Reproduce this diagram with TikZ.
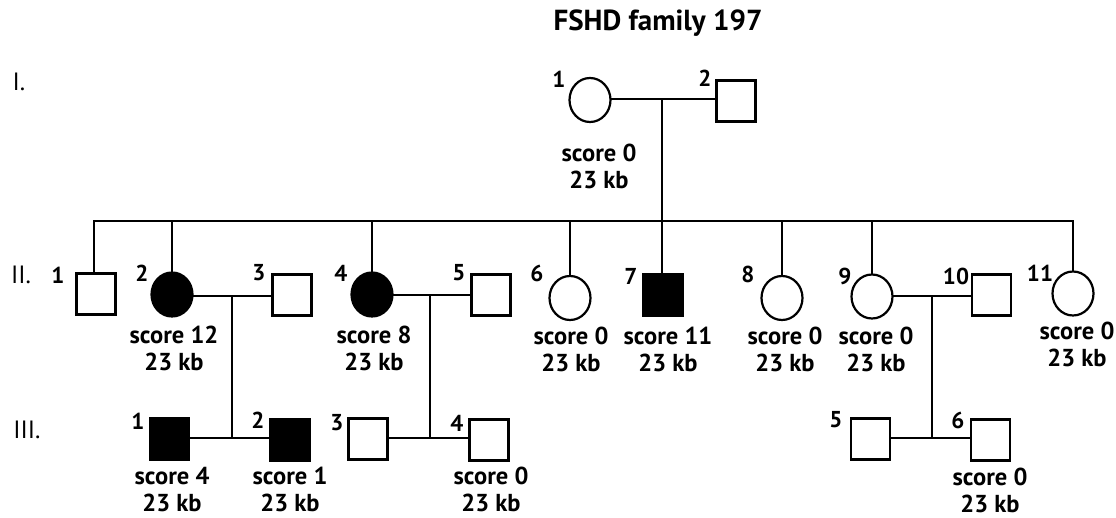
\documentclass[tikz,border=0pt]{standalone}
\usepackage{fontspec}
\setmainfont{PT Sans}
\usetikzlibrary{shapes.geometric}
\tikzset{
  base/.style={draw=black, line width=2.2pt, inner sep=0pt},
  fem/.style={base, ellipse, minimum width=41pt, minimum height=44pt},
  mal/.style={base, rectangle, minimum width=39pt, minimum height=41pt},
  aff/.style={fill=black},
  num/.style={inner sep=0pt, font=\fontsize{23}{24}\selectfont\bfseries},
  info/.style={inner sep=0pt, align=center, font=\fontsize{24.5}{27}\selectfont\bfseries},
  gen/.style={inner sep=0pt, font=\fontsize{25}{26}\selectfont},
  ln/.style={line width=2.2pt, line cap=rect},
}
\begin{document}
\begin{tikzpicture}[x=1pt,y=-1pt]
\useasboundingbox (0,0) rectangle (1116,518);
% title
\node[inner sep=0pt, font=\fontsize{29}{30}\selectfont\bfseries] (title) at (658,23) {FSHD family 197};
% generation labels
\node[gen] (gI) at (19,82) {I.};
\node[gen] (gII) at (21,275) {II.};
\node[gen] (gIII) at (27,430) {III.};
% generation I
\node[fem] (I1) at (590,100) {};
\node[mal] (I2) at (736,101) {};
\node[num] (nI1) at (559,79) {1};
\node[num] (nI2) at (705,78) {2};
\node[info] (iI1) at (599,166) {score 0\\23 kb};
% generation II
\node[mal] (II1) at (96,294) {};
\node[fem,aff] (II2) at (172,294.5) {};
\node[mal] (II3) at (292,295) {};
\node[fem,aff] (II4) at (372,294.5) {};
\node[mal] (II5) at (491,295) {};
\node[fem] (II6) at (570,298) {};
\node[mal,aff] (II7) at (663,295) {};
\node[fem] (II8) at (782,298) {};
\node[fem] (II9) at (872,296.5) {};
\node[mal] (II10) at (991.5,295) {};
\node[fem] (II11) at (1073,293.5) {};
\node[num] (nII1) at (58,275) {1};
\node[num] (nII2) at (142,273) {2};
\node[num] (nII3) at (259,273) {3};
\node[num] (nII4) at (341,273) {4};
\node[num] (nII5) at (459,273) {5};
\node[num] (nII6) at (537,273) {6};
\node[num] (nII7) at (631,276) {7};
\node[num] (nII8) at (748,274) {8};
\node[num] (nII9) at (845,276) {9};
\node[num] (nII10) at (956,276) {10};
\node[num] (nII11) at (1040,273) {11};
\node[info] (iII2) at (174,348) {score 12\\23 kb};
\node[info] (iII4) at (374,348) {score 8\\23 kb};
\node[info] (iII6) at (571,349) {score 0\\23 kb};
\node[info] (iII7) at (668,349) {score 11\\23 kb};
\node[info] (iII8) at (785,349) {score 0\\23 kb};
\node[info] (iII9) at (876,349) {score 0\\23 kb};
\node[info] (iII11) at (1077,344) {score 0\\23 kb};
% generation III
\node[mal,aff] (III1) at (169.5,439) {};
\node[mal,aff] (III2) at (290,440) {};
\node[mal] (III3) at (368,439) {};
\node[mal] (III4) at (489,440) {};
\node[mal] (III5) at (870.5,439) {};
\node[mal] (III6) at (990.5,440) {};
\node[num] (nIII1) at (138,421) {1};
\node[num] (nIII2) at (258,420) {2};
\node[num] (nIII3) at (337,423) {3};
\node[num] (nIII4) at (457,423) {4};
\node[num] (nIII5) at (836,420) {5};
\node[num] (nIII6) at (958,420) {6};
\node[info] (iIII1) at (172,489.5) {score 4\\23 kb};
\node[info] (iIII2) at (290,489.5) {score 1\\23 kb};
\node[info] (iIII4) at (491,489.5) {score 0\\23 kb};
\node[info] (iIII6) at (990,490) {score 0\\23 kb};
% coordinates
\coordinate (m1) at (662,99);
\coordinate (sL) at (94,221);
\coordinate (sR) at (1073,221);
\coordinate (m2) at (232,296);
\coordinate (m3) at (430,295);
\coordinate (m4) at (932,296);
\coordinate (c1) at (232,438);
\coordinate (c2) at (431,438);
\coordinate (c3) at (932,438);
% connectors generation I
\draw[ln] (I1.east |- m1) -- (I2.west |- m1);
\draw[ln] (m1) -- (m1 |- sL);
\draw[ln] (sL) -- (sR);
\draw[ln] (sL) -- (sL |- II1.north);
\foreach \k/\x in {II2/172,II4/372,II6/570,II7/662,II8/782,II9/872,II11/1073}{
  \draw[ln] (\x,221) -- (\x,221 |- \k.north);
}
% couples generation II
\draw[ln] (II2.east |- m2) -- (II3.west |- m2);
\draw[ln] (m2) -- (c1);
\draw[ln] (II4.east |- m3) -- (II5.west |- m3);
\draw[ln] (m3) -- (m3 |- c2);
\draw[ln] (II9.east |- m4) -- (II10.west |- m4);
\draw[ln] (m4) -- (c3);
% generation III lines
\draw[ln] (III1.east |- c1) -- (III2.west |- c1);
\draw[ln] (III3.east |- c2) -- (III4.west |- c2);
\draw[ln] (III5.east |- c3) -- (III6.west |- c3);
\end{tikzpicture}
\end{document}
